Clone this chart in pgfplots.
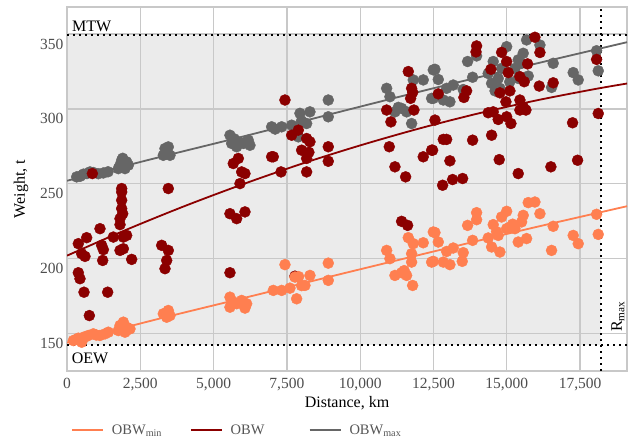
\documentclass[border=0pt]{standalone}
\usepackage{pgfplots}
\pgfplotsset{compat=1.18}
\usepackage{fontspec}
\setmainfont{Liberation Serif}
\definecolor{obwmin}{RGB}{255,127,80}
\definecolor{obw}{RGB}{139,0,0}
\definecolor{obwmax}{RGB}{102,102,102}
\definecolor{panel}{RGB}{235,235,235}
\definecolor{gridc}{RGB}{200,200,200}
\definecolor{ticktext}{RGB}{77,77,77}
\definecolor{legtext}{RGB}{85,85,85}
\begin{document}
\begin{tikzpicture}
\begin{axis}[
  at={(67pt,72pt)}, anchor=south west,
  scale only axis, width=560pt, height=364pt,
  xmin=0, xmax=19100, ymin=125, ymax=368,
  set layers=standard,
  axis line style={gridc, line width=1.3pt},
  grid=major, grid style={gridc, line width=1.3pt},
  major tick length=0pt,
  xtick={0,2500,...,17500}, ytick={150,200,...,350},
  scaled x ticks=false, scaled y ticks=false,
  /pgf/number format/assume math mode=true,
  /pgf/number format/1000 sep={,},
  ticklabel style={font=\fontsize{15.5}{18}\selectfont, text=ticktext},
  xticklabel style={yshift=-4pt},
  yticklabel style={yshift=-10pt},
  xlabel={Distance, km}, ylabel={Weight, t},
  label style={font=\fontsize{16}{19}\selectfont},
  xlabel style={at={(axis description cs:0.5,-0.1016)}, anchor=base},
  ylabel style={at={(axis description cs:-0.082,0.5)}, anchor=center},
  legend columns=3,
  legend style={at={(axis description cs:0.007,-0.162)}, anchor=west, draw=none, fill=none,
    inner sep=0pt, font=\fontsize{14.5}{16}\selectfont, text=legtext,
    /tikz/every even column/.append style={column sep=14pt}},
  legend image code/.code={\draw[#1] (0pt,0pt) -- (31pt,0pt);},
]
% panel
\addplot[draw=none, fill=panel, on layer=axis background, forget plot]
  coordinates {(0,142.5) (18200,142.5) (18200,349) (0,349) (0,142.5)};
% limits
\addplot[black, line width=2pt, dash pattern=on 2pt off 4pt, forget plot] coordinates {(0,349) (19100,349)};
\addplot[black, line width=2pt, dash pattern=on 2pt off 4pt, forget plot] coordinates {(0,142.5) (19100,142.5)};
\addplot[black, line width=2pt, dash pattern=on 2pt off 4pt, forget plot] coordinates {(18200,125) (18200,368)};
% OBW max points
\addplot[only marks, mark=*, mark size=5.5pt, obwmax, mark options={draw=obwmax, fill=obwmax}, forget plot] coordinates {
(330,254.6)(450,255)(557,256.4)(680,256.8)(784,257.9)(900,257.5)(1070,256.7)(1240,257.2)(1400,258)
(1750,260.1)(1808,262.4)(1865,265.7)(1920,263.5)(1978,260.1)(2035,264.6)(2092,262.4)(1900,267)
(3284,269)(3342,273.5)(3455,274.6)(3513,269)(3400,271)
(5558,282.4)(5616,276.9)(5786,274.7)(5843,278)(6012,276.9)(6127,278)(6182,279.1)(6240,275.7)(5700,280)
(6980,288)(7100,286.5)(7321,288)
(7662,289.1)(7889,281.3)(7945,297)(8173,290.2)(8286,298)(8000,292)(8911,305.9)(8911,294.7)
(10902,313.7)(11014,308.1)(11185,298)(11412,300.3)(11583,298)(11754,290.2)(11810,319.3)(12150,319.3)(12436,307)(12493,326)(11300,301)
(12550,326.4)(12663,319.6)(12493,307)(12834,305.9)(13060,304.7)(13173,315.9)(12948,313.7)(13514,312.9)(13663,331.6)(13834,321.1)
(13970,335.3)(14366,323.6)(14482,317)(14537,331.6)(14707,320.3)(14765,313.7)(14823,327)(14995,341.5)(15277,327)(15390,332.7)
(15505,330.4)(15560,337.1)(15675,346)(15731,321.9)(15390,320.3)(16130,342.6)(16583,330.4)(16527,314.3)(17265,324.2)(17436,319.3)
(18062,338.8)(18119,325.4)(14600,312)(15100,318)
};
% OBW points
\addplot[only marks, mark=*, mark size=5.5pt, obw, mark options={draw=obw, fill=obw}, forget plot] coordinates {
(386,210)(671,214)(500,203.3)(614,201.5)(386,190.6)(443,186.6)(580,177.6)(762,162)(1125,220)(1182,208.9)(1240,206)(1217,198.8)(1387,177.6)(865,256.8)
(1865,244.5)(1865,239)(1865,233.4)(1808,226.7)(1808,222.7)(2035,215.5)(1920,214.4)(1580,214.4)(1808,205.5)(1922,206.6)(2206,199.5)(1865,246.8)(1900,230)
(3229,208.9)(3455,205.5)(3400,198.8)(3342,193.3)(3455,246.8)
(5558,190.6)(5558,230)(5786,226.7)(6070,231.2)(5671,263.5)(5843,266.9)(5957,257.9)(6070,256.8)(5900,250.1)
(7036,268)(6980,268)(7434,305.9)(7300,257.9)(7775,188.3)
(7662,282.4)(7889,285.8)(8173,280.2)(8286,278)(8003,272.4)(8173,266.9)(8173,257.9)(8911,274.7)(8911,265)(8250,271)
(10902,299.2)(11048,291.3)(11640,324.9)(11754,313.7)(11790,311)(11720,307)(11833,299.2)(10992,274.7)(11185,261.3)(11549,254.6)
(12150,268)(12436,272.4)(12550,292.5)(11412,224.9)(11617,222.2)
(13970,342)(13950,338)(12663,310)(13629,312)(13537,307.6)(14458,326.4)(14823,337.7)(14995,331.6)(15050,324.2)(14765,310.7)
(15106,312)(14970,304.7)(15447,321.5)(15595,318.1)(15709,330)(15959,347.8)(16130,337.6)(16106,315.2)(16583,317.4)(15447,305.9)
(15560,301.4)(15652,299.2)(15447,299.2)(14366,297.4)(14537,298)(14707,292.9)(14995,294.7)(15140,290.2)(14482,282.4)(13834,279.1)
(14742,266.1)(15390,256.8)(16504,261.3)(17414,265.7)(17243,290.7)(18119,296.9)(18062,333)(12470,272.4)(12834,279.6)(12948,279.6)
(13060,265.3)(12811,249)(13151,252.8)(13493,253.5)
};
% OBW min points
\addplot[only marks, mark=*, mark size=5.5pt, obwmin, mark options={draw=obwmin, fill=obwmin}, forget plot] coordinates {
(216,145.3)(386,146.9)(557,147.5)(727,148.7)(898,149.8)(1125,148.7)(1296,149.8)(1410,150.9)(500,144.2)(300,146)(650,148)(1000,149)
(1808,155.4)(1922,157.6)(2035,154.2)(1750,152)(1978,150.9)(2148,153.1)(1870,153)
(3284,163.2)(3455,165.4)(3400,160.9)(3513,162)
(5558,174.3)(5558,167.6)(5786,169.9)(5957,172.1)(6127,169.9)(5680,171)(6070,167)
(7036,178.8)(7321,178.8)(7434,196)(7604,180.3)(7775,187.7)(7900,188)(8116,182.1)(7832,173.2)(8286,188.8)(8911,197)(8911,185.5)(8000,182)
(10902,205.5)(11014,200)(11185,188.8)(11412,190.6)(11583,188.8)(11640,214)(11810,210)(11754,203.3)(11754,197.7)(11788,182.1)
(12150,210.6)(12436,197.7)(12493,217.8)(11500,192)
(12550,217.4)(12663,211.1)(12493,198.2)(12834,197.7)(13060,196)(12948,204.8)(13173,207.1)(13514,204)(13480,198.2)(13663,222.2)
(13834,212.2)(13970,230.7)(13970,226)(14366,213.8)(14537,222.7)(14482,207.8)(14707,215.5)(14765,204.4)(14823,227.8)(14995,231.6)
(14995,220)(15277,220)(15390,211.1)(15505,224.5)(15560,228.9)(15675,213.4)(15731,237.4)(15959,237.8)(16130,230)(16527,205.5)
(16583,221.6)(17265,215.5)(17436,210)(18062,229.6)(18119,216.2)(15100,221)(15200,223)(14650,218)
};
% fitted lines
\addplot[obwmin, line width=1.8pt, smooth] coordinates {(0,144)(3000,159.2)(6150,174.3)(9350,189.8)(12550,205)(15800,220.2)(19100,235)};
\addlegendentry{\hspace*{6pt}\makebox[62pt][l]{OBW\textsubscript{min}}}
\addplot[obw, line width=1.8pt, smooth] coordinates {(0,202)(2000,219.1)(4000,235)(6000,249.7)(8000,263.3)(10000,275.6)(12000,286.8)(14000,296.8)(16000,305.6)(18000,313.2)(19100,316.9)};
\addlegendentry{\hspace*{6pt}\makebox[62pt][l]{OBW}}
\addplot[obwmax, line width=1.8pt, smooth] coordinates {(0,252)(3000,267)(6100,282)(9300,298)(12550,314)(15800,329.3)(19100,344.5)};
\addlegendentry{\hspace*{6pt}\makebox[62pt][l]{OBW\textsubscript{max}}}
% annotations
\node[anchor=base west, inner sep=0pt, font=\fontsize{16}{19}\selectfont] at (axis cs:170,351.4) {MTW};
\node[anchor=base west, inner sep=0pt, font=\fontsize{16}{19}\selectfont] at (axis cs:160,129.7) {OEW};
\node[rotate=90, anchor=base west, inner sep=0pt, font=\fontsize{16}{19}\selectfont] at (axis cs:18926,150.9) {R\textsubscript{max}};
\end{axis}
\pgfresetboundingbox
\path[use as bounding box] (0,0) rectangle (631pt,443pt);
\end{tikzpicture}
\end{document}
